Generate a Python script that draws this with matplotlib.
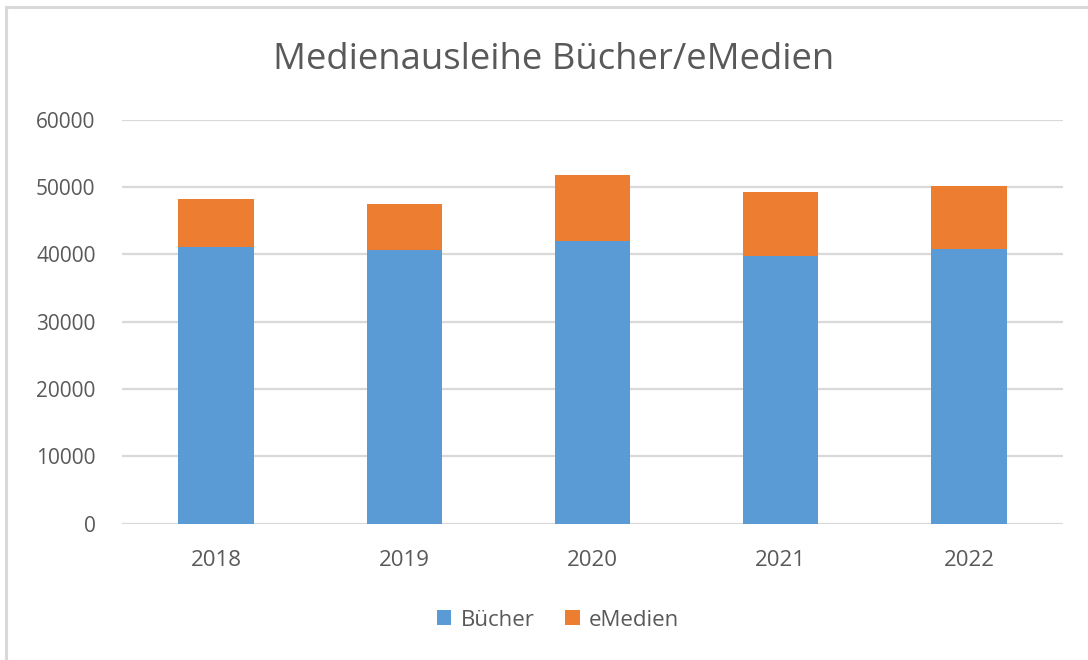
import matplotlib
matplotlib.use("Agg")
import matplotlib.pyplot as plt
from matplotlib.patches import Rectangle
import numpy as np

years = ["2018", "2019", "2020", "2021", "2022"]
buecher = [41120, 40630, 42000, 39760, 40830]
emedien = [7030, 6880, 9760, 9510, 9320]
yticks = [0, 10000, 20000, 30000, 40000, 50000, 60000]

BLUE = "#5B9BD5"
ORANGE = "#ED7D31"
TXT = "#595959"
GRID = "#D9D9D9"

plt.rcParams["font.family"] = ["Open Sans", "DejaVu Sans"]

W, H = 1088, 660
fig = plt.figure(figsize=(W / 100, H / 100), dpi=100)
ax = fig.add_axes([122 / W, 1 - 523.5 / H, (1063 - 122) / W, (523.5 - 119.7) / H])

x = np.arange(len(years))
ax.bar(x, buecher, width=0.4, color=BLUE, label="Bücher", zorder=3)
ax.bar(x, emedien, width=0.4, bottom=buecher, color=ORANGE, label="eMedien", zorder=3)

ax.set_xlim(-0.5, len(years) - 0.5)
ax.set_ylim(0, 60000)
ax.set_yticks(yticks)
ax.set_yticklabels([str(v) for v in yticks])
ax.set_xticks(x)
ax.set_xticklabels(years)
ax.yaxis.grid(True, color=GRID, linewidth=1.6, zorder=0)
ax.set_axisbelow(True)
for s in ax.spines.values():
    s.set_visible(False)
ax.tick_params(axis="both", length=0, colors=TXT)
ax.tick_params(axis="y", pad=19, labelsize=15)
ax.tick_params(axis="x", pad=19, labelsize=16)

fig.text(554 / W, 1 - 60 / H, "Medienausleihe Bücher/eMedien", ha="center", va="center",
         fontsize=26.3, color=TXT)

leg = fig.legend(loc="center", bbox_to_anchor=(558 / W, 1 - 620 / H), ncol=2, frameon=False,
                 fontsize=16, labelcolor=TXT, handlelength=0.65, handleheight=0.65,
                 handletextpad=0.4, columnspacing=1.4)

fig.patches.append(Rectangle((6 / W, -0.1), 1.2, 1 - 7 / H + 0.1, transform=fig.transFigure,
                             fill=False, edgecolor=GRID, linewidth=2.2))

fig.savefig("out.png", dpi=100, facecolor="white")
